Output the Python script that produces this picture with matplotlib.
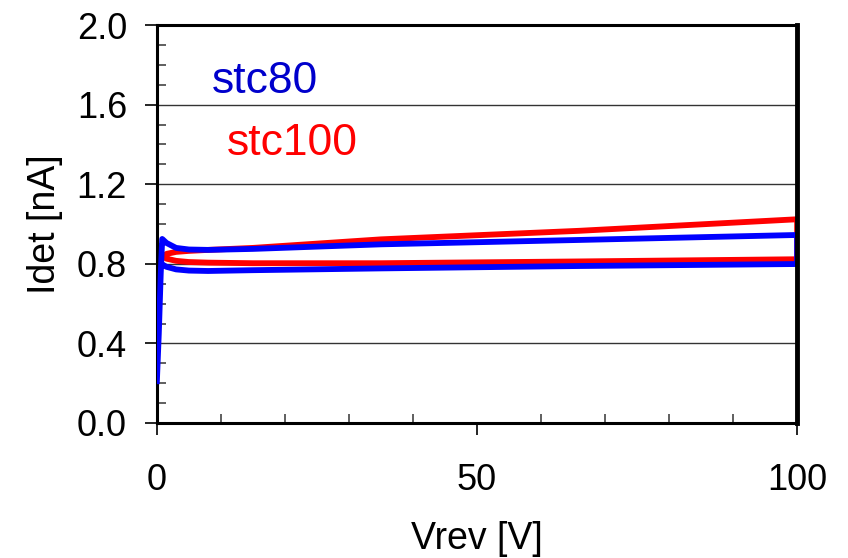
import matplotlib
matplotlib.use("Agg")
import matplotlib.pyplot as plt
from matplotlib.ticker import MultipleLocator

plt.rcParams["font.family"] = ["Liberation Sans", "DejaVu Sans"]

# stc80: forward sweep then return sweep (V, nA)
v80 = [0.0, 0.3, 0.6, 0.83, 1.5, 3, 5, 8, 15, 35, 66, 100,
       100, 66, 35, 15, 8, 5, 3, 1.5, 1.0]
i80 = [0.21, 0.45, 0.75, 0.925, 0.905, 0.88, 0.872, 0.87, 0.875, 0.898, 0.92, 0.945,
       0.799, 0.789, 0.777, 0.768, 0.764, 0.766, 0.772, 0.785, 0.794]

# stc100
v100 = [1.0, 1.5, 3, 5, 8, 15, 35, 66, 100,
        100, 66, 35, 15, 8, 5, 3, 1.5, 1.0]
i100 = [0.836, 0.85, 0.86, 0.865, 0.87, 0.88, 0.923, 0.966, 1.024,
        0.823, 0.812, 0.803, 0.803, 0.806, 0.809, 0.815, 0.826, 0.836]

fig = plt.figure(figsize=(8.48, 5.58), dpi=100)
ax = fig.add_axes([0.185, 0.242, 0.755, 0.713])

ax.plot(v100, i100, color="#ff0000", lw=4.2, solid_joinstyle="round", zorder=3)
ax.plot(v80, i80, color="#0000ff", lw=4.2, solid_joinstyle="round", zorder=3.1)

ax.text(8.6, 1.66, "stc80", color="#0000cc", fontsize=32)
ax.text(10.9, 1.347, "stc100", color="#ff0000", fontsize=32)

ax.set_xlim(0, 100)
ax.set_ylim(0, 2.0)
ax.xaxis.set_major_locator(MultipleLocator(50))
ax.xaxis.set_minor_locator(MultipleLocator(10))
ax.yaxis.set_major_locator(MultipleLocator(0.4))
ax.yaxis.set_minor_locator(MultipleLocator(0.1))
ax.yaxis.set_major_formatter(plt.FormatStrFormatter("%.1f"))

ax.grid(axis="y", which="major", color="#333333", lw=1.0)
ax.set_axisbelow(True)
for s in ax.spines.values():
    s.set_linewidth(2.2)
# right frame edge sits over the sweep turn-around
ax.spines["right"].set_zorder(4)
ax.spines["right"].set_linewidth(3.5)

ax.tick_params(which="major", direction="out", length=8.5, width=1.2, labelsize=26)
ax.tick_params(axis="x", which="major", pad=20)
ax.tick_params(axis="y", which="major", pad=13)
ax.tick_params(which="minor", direction="in", length=6.5, width=1.2, color="#444444")

ax.set_xlabel("Vrev [V]", fontsize=27, labelpad=17)
ax.set_ylabel("Idet [nA]", fontsize=27, labelpad=10)

fig.savefig("out.png", dpi=100, facecolor="white")
